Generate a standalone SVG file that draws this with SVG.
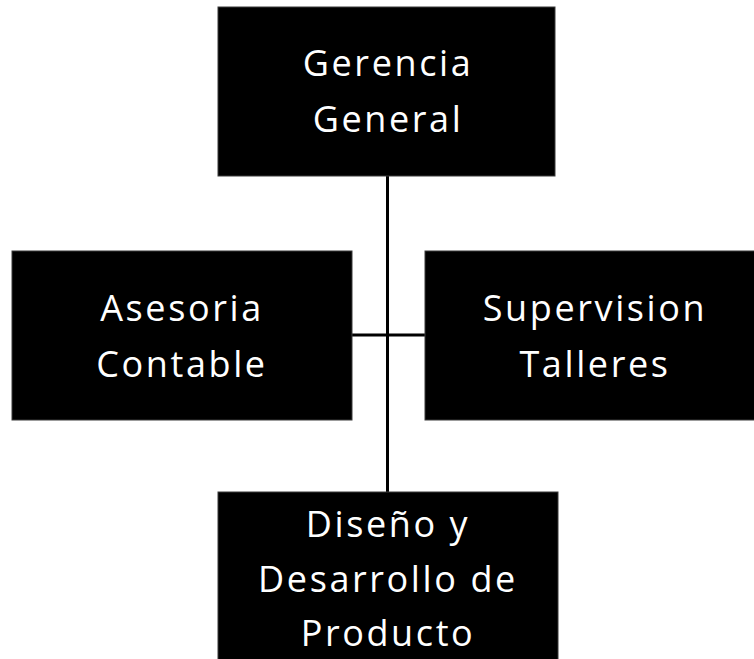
<svg xmlns="http://www.w3.org/2000/svg" width="754" height="659" viewBox="0 0 754 659">
<style>
.box{fill:#000;stroke:#3a3a3a;stroke-width:1}
.t{fill:#fff;font-family:"Open Sans",Lato,sans-serif;font-size:36px;letter-spacing:2.6px;text-anchor:middle}
.c{stroke:#000;stroke-width:3;fill:none}
</style>
<rect width="754" height="659" fill="#fff"/>
<g id="connectors">
<line class="c" x1="387.5" y1="176" x2="387.5" y2="492"/>
<line class="c" x1="352" y1="335" x2="425" y2="335"/>
</g>
<g id="gerencia">
<rect class="box" x="218" y="7" width="337" height="169"/>
<text class="t" x="388" y="76">Gerencia</text>
<text class="t" x="388" y="132">General</text>
</g>
<g id="asesoria">
<rect class="box" x="12" y="251" width="340" height="169"/>
<text class="t" x="182" y="321">Asesoria</text>
<text class="t" x="182" y="377">Contable</text>
</g>
<g id="supervision">
<rect class="box" x="425" y="251" width="340" height="169"/>
<text class="t" x="595" y="321">Supervision</text>
<text class="t" x="595" y="377">Talleres</text>
</g>
<g id="diseno">
<rect class="box" x="218" y="492" width="340" height="180"/>
<text class="t" x="388" y="537">Diseño y</text>
<text class="t" x="388" y="592">Desarrollo de</text>
<text class="t" x="388" y="646">Producto</text>
</g>
</svg>
